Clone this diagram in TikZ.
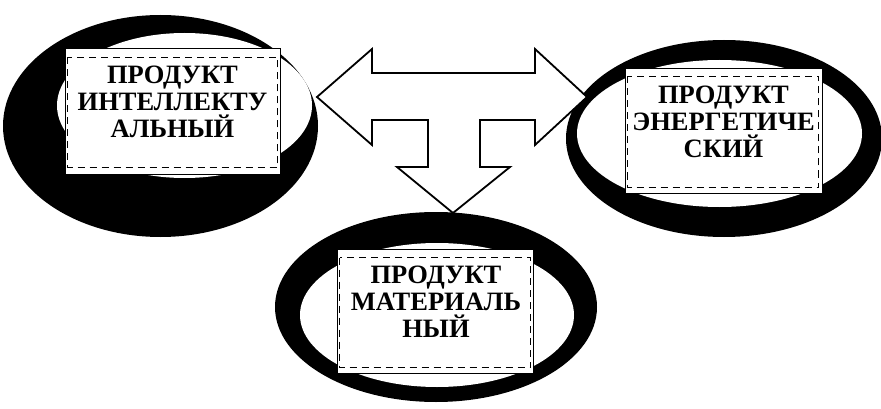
\documentclass[tikz,border=0pt]{standalone}
\usepackage{fontspec}
\setmainfont{Liberation Serif}
\begin{document}
\begin{tikzpicture}[x=1pt,y=-1pt,
  ringblack/.style={fill=black,draw=none},
  ringwhite/.style={fill=white,draw=none},
  prodbox/.style={draw=black,line width=1pt,fill=white,inner sep=0pt},
  innerdash/.style={draw=black,line width=1.6pt,dash pattern=on 7pt off 5pt},
  prodtext/.style={align=center,font=\bfseries\fontsize{26.5}{27}\selectfont,inner sep=0pt},
  bigarrow/.style={draw=black,line width=1.8pt,fill=white,line join=miter}]
\useasboundingbox (0,0) rectangle (881,409);
% rings
\fill[ringblack] (160.5,126) ellipse [x radius=157.5, y radius=111];
\fill[ringwhite] (184.5,105.5) ellipse [x radius=127.5, y radius=72.5];
\fill[ringblack] (724,138.5) ellipse [x radius=158, y radius=98.5];
\fill[ringwhite] (719.5,133.5) ellipse [x radius=142.5, y radius=73.5];
\fill[ringblack] (436,307) ellipse [x radius=161, y radius=95];
\fill[ringwhite] (437,315) ellipse [x radius=137, y radius=72];
% boxes
\node[prodbox,minimum width=215pt,minimum height=126pt] (intel) at (172.5,112) {};
\draw[innerdash] ([shift={(3,9)}]intel.north west) rectangle ([shift={(-3,-8)}]intel.south east);
\node[prodtext] (inteltext) at (172.5,102) {ПРОДУКТ\\ИНТЕЛЛЕКТУ\\АЛЬНЫЙ};
\node[prodbox,minimum width=197pt,minimum height=124pt] (energ) at (723.5,131) {};
\draw[innerdash] ([shift={(3,8)}]energ.north west) rectangle ([shift={(-4,-6)}]energ.south east);
\node[prodtext] (energtext) at (723.5,122) {ПРОДУКТ\\ЭНЕРГЕТИЧЕ\\СКИЙ};
\node[prodbox,minimum width=196pt,minimum height=124pt] (mater) at (435,311) {};
\draw[innerdash] ([shift={(3,9)}]mater.north west) rectangle ([shift={(-3,-6)}]mater.south east);
\node[prodtext] (matertext) at (436,302) {ПРОДУКТ\\МАТЕРИАЛЬ\\НЫЙ};
% big arrow
\draw[bigarrow] (317,97) -- (372,49) -- (372,73) -- (535,73) -- (535,49) -- (587,97)
  -- (535,145) -- (535,120) -- (480,120) -- (480,167) -- (510,167) -- (453,213)
  -- (397,167) -- (428,167) -- (428,120) -- (372,120) -- (372,145) -- cycle;
\end{tikzpicture}
\end{document}
